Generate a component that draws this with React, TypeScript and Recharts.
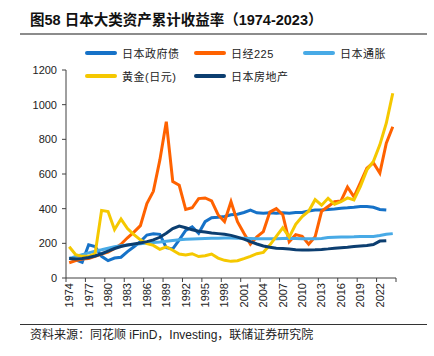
import { LineChart, Line, XAxis, YAxis } from "recharts";

const years = [
  "1974", "1975", "1976", "1977", "1978", "1979", "1980", "1981", "1982", "1983",
  "1984", "1985", "1986", "1987", "1988", "1989", "1990", "1991", "1992", "1993",
  "1994", "1995", "1996", "1997", "1998", "1999", "2000", "2001", "2002", "2003",
  "2004", "2005", "2006", "2007", "2008", "2009", "2010", "2011", "2012", "2013",
  "2014", "2015", "2016", "2017", "2018", "2019", "2020", "2021", "2022", "2023",
  "2024",
];

// 日本政府债
const govBond = [
  115, 105, 90, 192, 182, 125, 100, 115, 120, 152,
  180, 210, 248, 255, 252, 175, 168, 220, 275, 295,
  258, 325, 348, 350, 355, 365, 368, 378, 392, 376,
  374, 376, 374, 376, 374, 378, 378, 386, 392, 392,
  395, 398, 403, 405, 408, 413, 412, 408, 395, 392,
  null,
];

// 日经225
const nikkei = [
  88, 100, 110, 112, 125, 138, 150, 170, 195, 232,
  265, 302, 430, 500, 680, 902, 556, 535, 395, 405,
  458, 462, 445, 365, 325, 440, 325, 258, 195, 238,
  268, 380, 400, 365, 210, 250, 240, 195, 238, 385,
  412, 440, 445, 525, 468, 550, 634, 665, 605, 778,
  873,
];

// 日本通胀
const cpi = [
  112, 125, 135, 145, 155, 163, 172, 180, 186, 190,
  194, 198, 202, 205, 208, 212, 216, 220, 223, 225,
  227, 228, 229, 230, 231, 231, 230, 229, 228, 227,
  227, 226, 227, 228, 229, 228, 227, 226, 226, 228,
  233, 235, 236, 237, 238, 240, 240, 239, 245, 252,
  256,
];

// 黄金(日元)
const gold = [
  180, 135, 125, 125, 140, 390, 383, 280, 340, 285,
  250, 220, 198, 188, 165, 180, 160, 138, 133, 140,
  124, 128, 138, 115, 102, 96, 100, 112, 125, 140,
  148, 190, 240, 290, 236, 310, 355, 385, 452, 420,
  460, 425, 440, 462, 450, 528, 624, 672, 768, 893,
  1066,
];

// 日本房地产
const realEstate = [
  112, 110, 113, 118, 127, 140, 155, 170, 182, 190,
  196, 202, 210, 220, 235, 258, 285, 300, 290, 278,
  270, 265, 260, 256, 252, 246, 236, 224, 210, 196,
  185, 177, 172, 170, 167, 163, 162, 162, 163, 165,
  168, 172, 175, 178, 182, 185, 187, 193, 213, 215,
  null,
];

const yTicks = [0, 200, 400, 600, 800, 1000, 1200];

const series = [
  { key: "govBond", name: "日本政府债", color: "#1672C8" },
  { key: "nikkei", name: "日经225", color: "#FF6200" },
  { key: "cpi", name: "日本通胀", color: "#48AAE6" },
  { key: "gold", name: "黄金(日元)", color: "#F5C800" },
  { key: "realEstate", name: "日本房地产", color: "#0C3E70" },
];

const data = years.map((year, i) => ({
  year,
  govBond: govBond[i],
  nikkei: nikkei[i],
  cpi: cpi[i],
  gold: gold[i],
  realEstate: realEstate[i],
}));

const numFont = '"Liberation Sans", Arial, sans-serif';
const cjkFont = '"Liberation Sans", "Noto Sans CJK SC", sans-serif';

function YearTick(props: any) {
  const { x, y, payload } = props;
  const half = payload && payload.offset ? payload.offset : 3.24;
  return (
    <g transform={`translate(${x},${y})`}>
      <line x1={-half} x2={-half} y1={-5} y2={-1} stroke="#404040" strokeWidth={1} />
      {payload.value === "2022" && (
        <line x1={half * 5} x2={half * 5} y1={-5} y2={-1} stroke="#404040" strokeWidth={1} />
      )}
      <text
        transform="rotate(-90)"
        textAnchor="end"
        dy="0.35em"
        fontSize={11}
        fontFamily={numFont}
        fill="#222"
      >
        {payload.value}
      </text>
    </g>
  );
}

function Legend() {
  const cols = [85, 194, 303];
  const rows = [53, 76];
  return (
    <>
      {series.map((s, i) => {
        const left = cols[i % 3];
        const top = rows[Math.floor(i / 3)];
        return (
          <div
            key={s.key}
            style={{ position: "absolute", left, top: top - 8, height: 16, display: "flex", alignItems: "center" }}
          >
            <div style={{ width: 32, height: 4, borderRadius: 2, background: s.color }} />
            <span
              style={{
                marginLeft: 5,
                fontSize: 11,
                fontFamily: cjkFont,
                color: "#222",
                whiteSpace: "nowrap",
                letterSpacing: 0.5,
              }}
            >
              {s.name}
            </span>
          </div>
        );
      })}
    </>
  );
}

export default function App() {
  return (
    <div style={{ position: "fixed", left: 0, top: 0, width: 434, height: 356, background: "#fff", overflow: "hidden" }}>
      <div
        style={{
          position: "absolute",
          left: 30,
          top: 11,
          fontSize: 14.5,
          fontWeight: 700,
          fontFamily: cjkFont,
          color: "#111",
          whiteSpace: "nowrap",
          lineHeight: "18px",
        }}
      >
        图58 日本大类资产累计收益率（1974-2023）
      </div>
      <div style={{ position: "absolute", left: 20, top: 33, width: 407, height: 2, background: "#8c8c8c" }} />
      <Legend />
      <div style={{ position: "absolute", left: 0, top: 0 }}>
        <LineChart width={434} height={356} data={data} margin={{ top: 70, right: 38, bottom: 38, left: 0 }}>
          <XAxis
            dataKey="year"
            scale="band"
            interval={2}
            height={40}
            tickLine={false}
            tickSize={4}
            tickMargin={1}
            axisLine={{ stroke: "#404040" }}
            tick={<YearTick />}
          />
          <YAxis
            width={66}
            domain={[0, 1200]}
            ticks={yTicks}
            tickSize={4}
            tickMargin={5}
            axisLine={{ stroke: "#404040" }}
            tickLine={{ stroke: "#404040" }}
            tick={{ fontSize: 11, fontFamily: numFont, fill: "#222" }}
          />
          {series.map((s) => (
            <Line
              key={s.key}
              type="linear"
              dataKey={s.key}
              name={s.name}
              stroke={s.color}
              strokeWidth={3}
              dot={false}
              isAnimationActive={false}
              connectNulls={false}
            />
          ))}
        </LineChart>
      </div>
      <div style={{ position: "absolute", left: 20, top: 324, width: 407, height: 1, background: "#333" }} />
      <div
        style={{
          position: "absolute",
          left: 30,
          top: 327,
          fontSize: 12,
          fontFamily: cjkFont,
          color: "#222",
          whiteSpace: "nowrap",
          lineHeight: "16px",
        }}
      >
        资料来源：同花顺 iFinD，Investing，联储证券研究院
      </div>
    </div>
  );
}
